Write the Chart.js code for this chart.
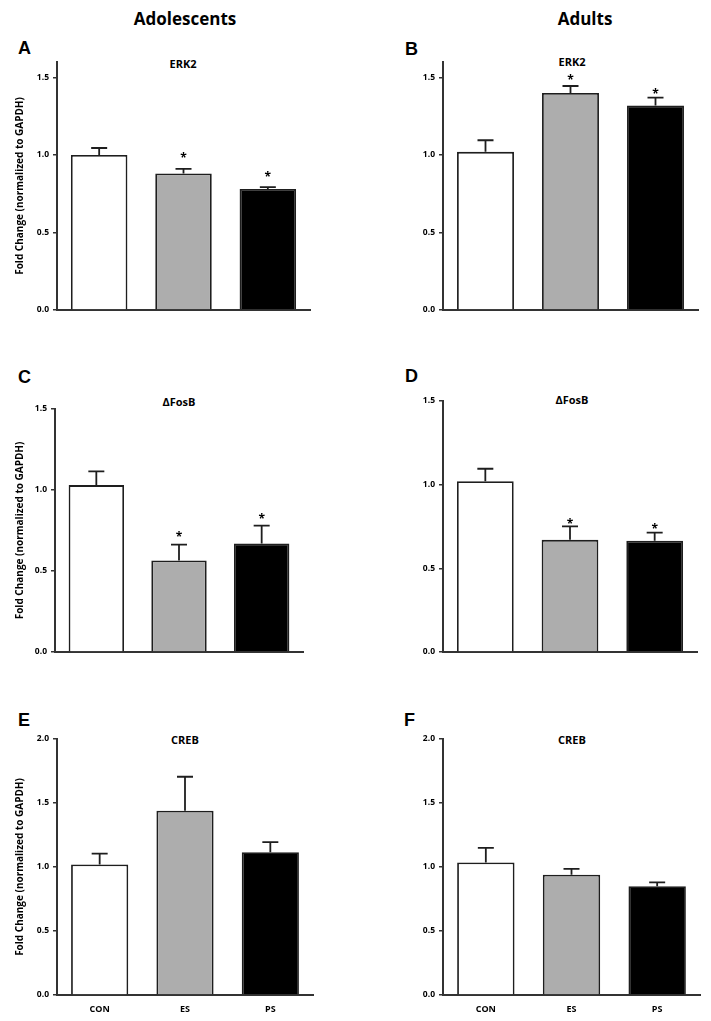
<!DOCTYPE html>
<html lang="en">
<head>
  <meta charset="UTF-8">
  <title>ERK2, ΔFosB and CREB – Adolescents vs Adults</title>
  <script src="https://cdn.jsdelivr.net/npm/chart.js"></script>
  <style>
    body { margin: 0; background: #fff; width: 711px; height: 1021px; position: relative; overflow: hidden; font-family: 'Open Sans', sans-serif; color: #000; }
    .lbl { position: absolute; font-weight: bold; white-space: nowrap; line-height: 1; }
    .col { font-size: 17px; transform: translateX(-50%); }
    .letter { font-family: 'Liberation Sans', Arial, sans-serif; font-size: 18px; }
    .gene { font-size: 11px; transform: translateX(-50%); }
    canvas { position: absolute; }
  </style>
</head>
<body>
  <div class="lbl col" style="left:185px; top:10px">Adolescents</div>
  <div class="lbl col" style="left:585px; top:10px">Adults</div>

  <div class="lbl letter" style="left:18px; top:39px">A</div>
  <div class="lbl letter" style="left:405px; top:40px">B</div>
  <div class="lbl letter" style="left:18px; top:368px">C</div>
  <div class="lbl letter" style="left:405px; top:367px">D</div>
  <div class="lbl letter" style="left:18px; top:711px">E</div>
  <div class="lbl letter" style="left:404px; top:711px">F</div>

  <div class="lbl gene" style="left:183px; top:58px">ERK2</div>
  <div class="lbl gene" style="left:572px; top:56px">ERK2</div>
  <div class="lbl gene" style="left:179px; top:396px">ΔFosB</div>
  <div class="lbl gene" style="left:572px; top:394px">ΔFosB</div>
  <div class="lbl gene" style="left:185px; top:734px">CREB</div>
  <div class="lbl gene" style="left:572px; top:734px">CREB</div>

  <canvas id="chartA"></canvas>
  <canvas id="chartB"></canvas>
  <canvas id="chartC"></canvas>
  <canvas id="chartD"></canvas>
  <canvas id="chartE"></canvas>
  <canvas id="chartF"></canvas>

  <script>
    // groups
    const groups = ['CON', 'ES', 'PS'];

    // adolescents (mean, SEM, asterisk height)
    const adoErk2 = [1.00, 0.88, 0.78];
    const adoErk2Sem = [0.045, 0.03, 0.013];
    const adoErk2Star = [null, 1.00, 0.88];
    const adoFosB = [1.03, 0.565, 0.67];
    const adoFosBSem = [0.085, 0.097, 0.11];
    const adoFosBStar = [null, 0.726, 0.84];
    const adoCreb = [1.02, 1.44, 1.115];
    const adoCrebSem = [0.085, 0.265, 0.08];

    // adults
    const adErk2 = [1.02, 1.40, 1.32];
    const adErk2Sem = [0.075, 0.045, 0.05];
    const adErk2Star = [null, 1.506, 1.41];
    const adFosB = [1.02, 0.67, 0.665];
    const adFosBSem = [0.075, 0.08, 0.048];
    const adFosBStar = [null, 0.785, 0.75];
    const adCreb = [1.035, 0.94, 0.85];
    const adCrebSem = [0.115, 0.045, 0.03];

    const noStars = [null, null, null];

    // y ticks
    const ticks15 = [0, 0.5, 1.0, 1.5];
    const ticks20 = [0, 0.5, 1.0, 1.5, 2.0];

    const yTitle = 'Fold Change (normalized to GAPDH)';

    Chart.defaults.font.family = "'Open Sans', sans-serif";
    Chart.defaults.font.weight = 'bold';
    Chart.defaults.color = '#000';

    const ink = '#1e1e1e';
    const axisInk = '#333';

    // upper SEM whisker + asterisk over each bar
    const errorBars = {
      id: 'errorBars',
      afterDatasetsDraw(chart, args, opts) {
        const { ctx } = chart;
        const y = chart.scales.y;
        const values = chart.data.datasets[0].data;
        ctx.save();
        ctx.strokeStyle = ink;
        ctx.lineWidth = 1.8;
        chart.getDatasetMeta(0).data.forEach((bar, i) => {
          const top = y.getPixelForValue(values[i]);
          const end = y.getPixelForValue(values[i] + opts.sem[i]);
          ctx.beginPath();
          ctx.moveTo(bar.x, top);
          ctx.lineTo(bar.x, end);
          ctx.moveTo(bar.x - 8, end);
          ctx.lineTo(bar.x + 8, end);
          ctx.stroke();
          if (opts.stars[i] != null) {
            ctx.fillStyle = '#000';
            ctx.font = "bold 12px 'Open Sans', sans-serif";
            ctx.textAlign = 'center';
            ctx.textBaseline = 'alphabetic';
            ctx.fillText('*', bar.x, y.getPixelForValue(opts.stars[i]) + 7);
          }
        });
        ctx.restore();
      }
    };

    function drawPanel(id, p) {
      const colX = p.col ? 355 : 0;
      const padTop = 12;
      const xH = p.xLabels ? 20 : 4;
      const canvas = document.getElementById(id);
      canvas.width = 356;
      canvas.height = p.bottom - p.top + padTop + xH;
      canvas.style.left = colX + 'px';
      canvas.style.top = (p.top - padTop) + 'px';

      new Chart(canvas, {
        type: 'bar',
        data: {
          labels: groups,
          datasets: [{
            data: p.mean,
            backgroundColor: ['#ffffff', '#adadad', '#000000'],
            borderColor: ink,
            borderWidth: 1.8,
            barPercentage: 0.67,
            categoryPercentage: 1
          }]
        },
        options: {
          responsive: false,
          animation: false,
          events: [],
          layout: { padding: { top: padTop, left: 0, right: colX + 356 - p.right, bottom: 0 } },
          plugins: {
            legend: { display: false },
            tooltip: { enabled: false },
            errorBars: { sem: p.sem, stars: p.stars }
          },
          scales: {
            x: {
              grid: { display: false },
              border: { display: true, color: axisInk, width: 2 },
              ticks: { display: p.xLabels, font: { size: 9, weight: 'bold' }, padding: 1, color: '#000' },
              afterFit: s => { s.height = xH; }
            },
            y: {
              min: 0,
              max: p.max,
              grid: { drawOnChartArea: false, drawTicks: true, tickLength: 4, color: axisInk, lineWidth: 1.5 },
              border: { display: true, color: axisInk, width: 2 },
              ticks: { font: { size: 8.5, weight: 'bold' }, padding: 4, color: '#000', callback: v => v.toFixed(1) },
              afterBuildTicks: s => { s.ticks = p.ticks.map(v => ({ value: v })); },
              title: {
                display: p.yTitle,
                text: yTitle,
                font: { size: 10, weight: 'bold' },
                color: '#000',
                padding: { top: 14, bottom: 0 }
              },
              afterFit: s => { s.width = p.left - colX; }
            }
          }
        },
        plugins: [errorBars]
      });
    }

    drawPanel('chartA', { col: 0, mean: adoErk2, sem: adoErk2Sem, stars: adoErk2Star, ticks: ticks15, max: 1.6, left: 57, right: 310, top: 62, bottom: 315, yTitle: true, xLabels: false });
    drawPanel('chartB', { col: 1, mean: adErk2, sem: adErk2Sem, stars: adErk2Star, ticks: ticks15, max: 1.6, left: 443, right: 698, top: 62, bottom: 315, yTitle: false, xLabels: false });
    drawPanel('chartC', { col: 0, mean: adoFosB, sem: adoFosBSem, stars: adoFosBStar, ticks: ticks15, max: 1.5, left: 55, right: 303, top: 409, bottom: 657, yTitle: true, xLabels: false });
    drawPanel('chartD', { col: 1, mean: adFosB, sem: adFosBSem, stars: adFosBStar, ticks: ticks15, max: 1.5, left: 443, right: 697, top: 401, bottom: 657, yTitle: false, xLabels: false });
    drawPanel('chartE', { col: 0, mean: adoCreb, sem: adoCrebSem, stars: noStars, ticks: ticks20, max: 2.0, left: 57, right: 313, top: 739, bottom: 995, yTitle: true, xLabels: true });
    drawPanel('chartF', { col: 1, mean: adCreb, sem: adCrebSem, stars: noStars, ticks: ticks20, max: 2.0, left: 443, right: 700, top: 739, bottom: 995, yTitle: false, xLabels: true });
  </script>
</body>
</html>
